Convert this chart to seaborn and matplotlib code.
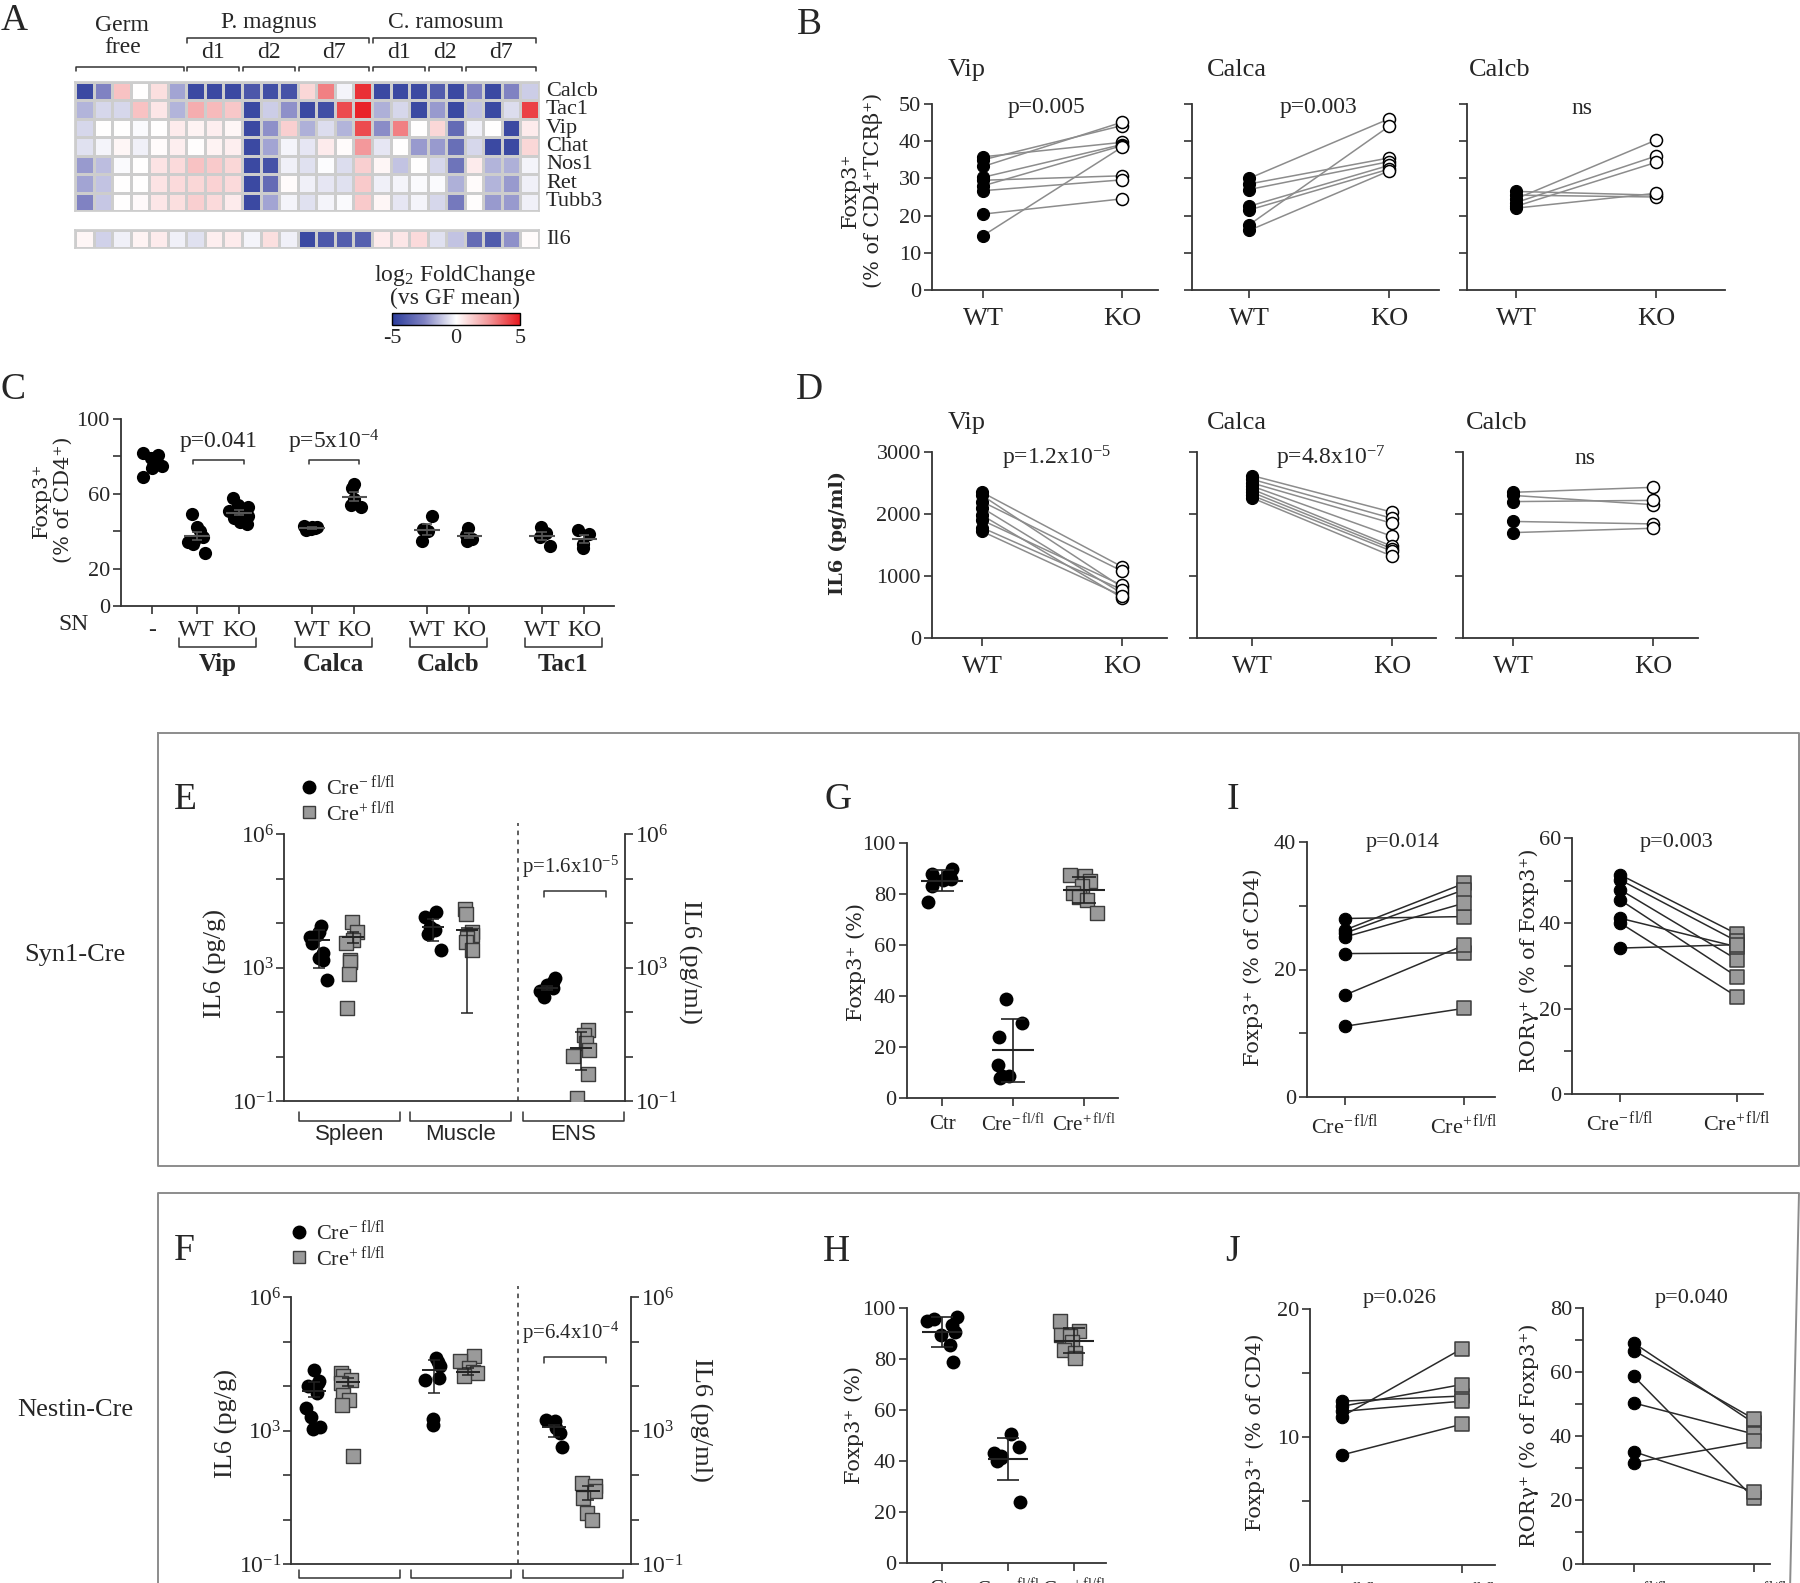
import warnings
import numpy as np
import pandas as pd
import matplotlib
matplotlib.use('Agg')
import matplotlib.pyplot as plt
import matplotlib.transforms as mtrans
from matplotlib.colors import LinearSegmentedColormap
from matplotlib.lines import Line2D
from matplotlib.ticker import NullLocator
import seaborn as sns

warnings.filterwarnings("ignore")
np.random.seed(7)  # only for the horizontal jitter of the dot clouds

# ---------------- A: heatmap, log2 fold change vs GF mean ----------------
heat_genes = ['Calcb', 'Tac1', 'Vip', 'Chat', 'Nos1', 'Ret', 'Tubb3']
heat_block_names = ['', 'd1', 'd2', 'd7', 'd1', 'd2', 'd7']
heat_block_sizes = [6, 3, 3, 4, 3, 2, 4]
heat_top_names = ['Germ\nfree', 'P. magnus', 'C. ramosum']
heat_top_blocks = [1, 3, 3]
fc_calcb = [-4.5, -2.5, 1.5, 0, 0.8, -1.8, -4.5, -4.5, -4.5, -4.0, -4.3, -4.2, 1.0, 3.0, -0.2, 4.5,
            -4.5, -4.5, -4.5, -3.8, -4.5, -2.5, -4.5, -2.5, -1.0]
fc_tac1 = [-1.5, -0.8, -0.8, 1.5, 0.6, -1.5, 2.0, 1.7, 1.4, -4.5, -1.0, -2.2, -4.5, -4.3, 4.0, 4.8,
           -1.6, -0.8, -4.5, -2.0, -4.5, -1.2, -4.5, -0.7, 4.2]
fc_vip = [-0.8, 0, 0, -0.1, 0, 0.5, 0.3, 0.4, 0.2, -4.5, -2.2, 1.2, -1.6, -0.7, -1.5, 4.0,
          -2.3, 3.0, 0, 1.0, -3.3, -0.3, 0, -4.5, 0.5]
fc_chat = [-0.6, -0.2, 0.2, -0.3, 0.1, 0.4, 0.05, 0.3, 0.4, -4.5, -1.8, -0.2, -0.5, 0.5, 0.1, 2.5,
           -0.5, 0, -2.0, -2.0, -3.2, -0.8, -4.5, -4.5, 1.0]
fc_nos1 = [-2.0, -1.3, -0.1, 0, 0.7, 0.9, 1.5, 1.3, 1.0, -4.5, -4.2, -0.3, -0.6, -0.05, -0.7, 1.2,
           0.2, -1.2, 0, -0.8, -3.0, 0.5, -1.5, -1.6, -0.2]
fc_ret = [-1.8, -1.2, 0, 0, 0.7, 0.9, 1.0, 1.1, 0.9, -4.5, -3.3, 0.1, -0.3, -0.5, -0.6, 1.3,
          -0.3, -0.2, -0.1, -0.1, -1.6, 0.1, -1.5, -2.0, -0.3]
fc_tubb3 = [-2.5, -1.1, 0, 0.15, 0.6, 0.8, 1.2, 0.9, 0.5, -4.5, -1.8, -0.2, -0.6, -0.2, -0.1, 1.3,
            0.2, -0.5, -0.2, -0.8, -2.8, 0.05, -2.0, -2.0, -0.3]
fc_il6 = [0.2, -0.9, -0.3, 0.3, 0.5, -0.3, -0.6, 0.4, 0.5, -0.2, 0.8, -0.3, -4.5, -4.0, -3.8, -3.7,
          0.5, 0.6, 0.9, -0.6, -1.2, -3.3, -3.9, -2.2, 0.1]

# ---------------- B: Foxp3+ (% of CD4+TCRb+), WT -> KO pairs ----------------
b_names = ['Vip', 'Calca', 'Calcb']
b_pvals = ['p=0.005', 'p=0.003', 'ns']
b_vip_wt = [35.8, 35.0, 33.2, 30.3, 29.5, 28.0, 26.7, 20.4, 14.6]
b_vip_ko = [39.7, 44.2, 45.1, 39.1, 30.7, 38.8, 29.6, 24.5, 38.4]
b_calca_wt = [30.0, 28.5, 27.0, 22.5, 21.5, 17.5, 16.0]
b_calca_ko = [46.0, 35.5, 34.5, 33.5, 32.5, 44.0, 32.0]
b_calcb_wt = [26.5, 25.5, 24.5, 23.5, 22.5, 22.0]
b_calcb_ko = [25.5, 25.0, 40.3, 36.0, 34.3, 26.0]

# ---------------- C: Foxp3+ (% of CD4+) with supernatants ----------------
c_genes = ['Vip', 'Calca', 'Calcb', 'Tac1']
c_pvals = ['p=0.041', r'p=5x10$^{-4}$']
c_ctrl = [82, 81, 79, 76, 75, 75, 74, 69]
c_vip_wt = [49, 42, 40, 37, 35, 34, 33, 28.5]
c_vip_ko = [57.5, 54, 53, 51, 50, 48, 47, 45, 44]
c_calca_wt = [43, 42.5, 42, 41.5, 41, 40.5]
c_calca_ko = [65, 63, 57, 54, 53]
c_calcb_wt = [48, 41, 40, 34.5]
c_calcb_ko = [41.5, 38, 36, 35]
c_tac1_wt = [42, 39, 37, 32]
c_tac1_ko = [40.5, 38.5, 33, 31]

# ---------------- D: IL6 (pg/ml), WT -> KO pairs ----------------
d_pvals = [r'p=1.2x10$^{-5}$', r'p=4.8x10$^{-7}$', 'ns']
d_vip_wt = [2350, 2300, 2200, 2100, 1980, 1900, 1780, 1720]
d_vip_ko = [1150, 820, 1080, 720, 650, 850, 780, 680]
d_calca_wt = [2620, 2560, 2500, 2450, 2400, 2350, 2300, 2260]
d_calca_ko = [2030, 1930, 1850, 1640, 1480, 1440, 1400, 1320]
d_calcb_wt = [2350, 2300, 2200, 1880, 1700]
d_calcb_ko = [2430, 2150, 2220, 1840, 1770]

# ---------------- E / F: IL6 in tissues (Cre- vs Cre+) ----------------
tissues = ['Spleen', 'Muscle', 'ENS']
e_neg = [[8500, 6300, 5400, 4900, 3500, 2100, 1600, 1500, 430],
         [17800, 13800, 8300, 6900, 5800, 2450],
         [470, 370, 295, 235, 200, 132]]
e_pos = [[10300, 6300, 4100, 3500, 1480, 1350, 660, 63],
         [21000, 16000, 6300, 5400, 4500, 3800, 2450],
         [13, 9.4, 5.3, 3.3, 2.3, 0.66, 0.12]]
# mean, lower and upper whisker per group: Spleen-, Spleen+, Muscle-, Muscle+, ENS-, ENS+
e_mean = [4200, 4800, 8300, 6900, 245, 4.0]
e_lo = [1000, 3500, 4000, 44, 215, 0.85]
e_hi = [6900, 6300, 12600, 7600, 280, 11.7]
e_pval = r'p=1.6x10$^{-5}$'

f_neg = [[23000, 13000, 11500, 9800, 6900, 3200, 2000, 1200, 1100],
         [42000, 35500, 27700, 15000, 13800, 1800, 1350],
         [1750, 1600, 1130, 830, 330]]
f_pos = [[20000, 16500, 13800, 11700, 6400, 4900, 3800, 167],
         [48000, 36000, 25300, 21000, 19500, 16500],
         [26, 21, 15, 9.4, 3.3, 2.1]]
f_mean = [7900, 12000, 23000, 21000, 1200, 15]
f_lo = [5600, 9800, 6900, 18000, 660, 8.3]
f_hi = [12000, 15000, 39000, 25000, 1350, 21]
f_pval = r'p=6.4x10$^{-4}$'

# ---------------- G / H: Foxp3+ (%) ----------------
gh_groups = ['Ctr', r'Cre$^{-\,\mathrm{fl/fl}}$', r'Cre$^{+\,\mathrm{fl/fl}}$']
g_ctr = [90, 88, 87, 86, 85.5, 83, 77]
g_neg = [39, 29.5, 24, 13, 8.5, 8, 8.5]
g_pos = [87.6, 87, 85, 83, 80.4, 79, 77.8, 72.5]
h_ctr = [96.5, 95.7, 94.8, 93.2, 90.4, 89.5, 85.6, 79]
h_neg = [50.5, 45.5, 43, 42, 41, 40, 24]
h_pos = [95, 91, 89.5, 89, 86.5, 83.5, 82.3, 80.3]

# ---------------- I / J: paired Cre- -> Cre+ ----------------
ij_groups = [r'Cre$^{-\,\mathrm{fl/fl}}$', r'Cre$^{+\,\mathrm{fl/fl}}$']
i_fox_neg = [28, 26.2, 25.7, 25.1, 22.5, 16, 11.1]
i_fox_pos = [28.3, 33.5, 32.5, 30.4, 22.6, 23.8, 13.9]
i_ror_neg = [51.4, 50.2, 47.9, 45.5, 41.2, 40.1, 34.2]
i_ror_pos = [37.5, 35.8, 31.5, 27.5, 34.5, 22.8, 35.0]
j_fox_neg = [12.8, 12.4, 12.0, 11.6, 8.6]
j_fox_pos = [13.2, 14.1, 12.8, 16.9, 11.0]
j_ror_neg = [69, 66.7, 58.6, 50.3, 35.1, 31.7]
j_ror_pos = [44, 45.3, 20.5, 40.6, 22.6, 38.3]
i_pvals = ['p=0.014', 'p=0.003']
j_pvals = ['p=0.026', 'p=0.040']

# ======================================================================
sns.set_theme(style='ticks')
plt.rcParams['font.family'] = ['Liberation Serif', 'DejaVu Serif']
plt.rcParams['mathtext.fontset'] = 'custom'
plt.rcParams['mathtext.rm'] = 'Liberation Serif'
plt.rcParams['mathtext.it'] = 'Liberation Serif:italic'
plt.rcParams['mathtext.bf'] = 'Liberation Serif:bold'

W, H = 1800, 1583
fig = plt.figure(figsize=(W / 100, H / 100), dpi=100)
fig.patch.set_facecolor('white')

INK = '#333333'
YLAB = dict(family='DejaVu Serif', fontsize=15, rotation=90, ha='center', va='center',
            multialignment='center')


def add_ax(l, t, r, b):
    return fig.add_axes([l / W, 1 - b / H, (r - l) / W, (b - t) / H])


def ftext(x, y, s, **kw):
    kw.setdefault('ha', 'center')
    kw.setdefault('va', 'center')
    return fig.text(x / W, 1 - y / H, s, **kw)


def fline(xs, ys, **kw):
    kw.setdefault('color', '#8c8c8c')
    kw.setdefault('lw', 1.4)
    fig.add_artist(Line2D([x / W for x in xs], [1 - y / H for y in ys],
                          transform=fig.transFigure, **kw))


def xlim_px(left, right, p0, p1):
    # x limits so that position 0 sits at pixel p0 and position 1 at p1
    u = p1 - p0
    return ((left - p0) / u, (right - p0) / u)


def style(ax, ylim, yticks, ylabels, xlim, xticks, xlabels, xsize=19, xpad=7, ysize=16):
    sns.despine(ax=ax)
    for s in ('left', 'bottom'):
        ax.spines[s].set_linewidth(1.3)
        ax.spines[s].set_color(INK)
    ax.set_ylim(*ylim)
    ax.set_xlim(*xlim)
    ax.set_yticks(yticks)
    ax.set_yticklabels(ylabels)
    ax.set_xticks(xticks)
    ax.set_xticklabels(xlabels)
    ax.tick_params(length=6, width=1.2, color=INK, labelsize=ysize, pad=2)
    ax.tick_params(axis='x', labelsize=xsize, pad=xpad)
    ax.set_xlabel('')
    ax.set_ylabel('')
    ax.set_facecolor('none')


def paired(ax, a, b, line_color, mk_a, mk_b):
    df = pd.DataFrame({'pair': list(range(len(a))) + list(range(len(b))),
                       'side': [0] * len(a) + [1] * len(b),
                       'val': list(a) + list(b)})
    sns.lineplot(data=df, x='side', y='val', units='pair', estimator=None,
                 color=line_color, lw=1.1, ax=ax, legend=False)
    sns.scatterplot(x=[0] * len(a), y=a, ax=ax, zorder=3, legend=False, **mk_a)
    sns.scatterplot(x=[1] * len(b), y=b, ax=ax, zorder=3, legend=False, **mk_b)


def mean_bar(ax, x, m, lo, hi, half, cap, color='black', lw=1.3):
    ax.hlines(m, x - half, x + half, color=color, lw=lw + 0.3, zorder=4)
    ax.vlines(x, lo, hi, color=color, lw=lw, zorder=4)
    ax.hlines([lo, hi], x - cap, x + cap, color=color, lw=lw, zorder=4)


def dots(ax, df, jitter, square=False, size=10):
    if square:
        sns.stripplot(data=df, x='pos', y='val', native_scale=True, jitter=jitter,
                      marker='s', color='#9a9a9a', edgecolor='#3c3c3c', linewidth=1,
                      size=size, ax=ax, zorder=3)
    else:
        sns.stripplot(data=df, x='pos', y='val', native_scale=True, jitter=jitter,
                      color='black', size=size, ax=ax, zorder=3)


MK_DOT = dict(marker='o', s=75, color='black', edgecolor='black', linewidth=0.8)
MK_OPEN = dict(marker='o', s=75, color='white', edgecolor='black', linewidth=1.1)
MK_SQ = dict(marker='s', s=100, color='#9a9a9a', edgecolor='#3c3c3c', linewidth=1.1)

# ---------------- frames and row titles ----------------
fline([158, 1799, 1799, 158, 158], [733, 733, 1166, 1166, 733])
fline([158, 158, 1799, 1790], [1590, 1193, 1193, 1590])
ftext(75, 955, 'Syn1-Cre', fontsize=19)
ftext(75, 1410, 'Nestin-Cre', fontsize=19)

# panel letters
for lab, x, y in [('A', 14, 21), ('B', 809, 25), ('C', 13, 390), ('D', 809, 390),
                  ('E', 185, 800), ('G', 838, 800), ('I', 1233, 800),
                  ('F', 184, 1251), ('H', 836, 1252), ('J', 1232, 1252)]:
    ftext(x, y, lab, fontsize=27)

# ======================= A =======================
cmap = LinearSegmentedColormap.from_list(
    'fc', ['#2b3c9b', '#7f82c2', '#ffffff', '#f39a9c', '#e8181e'])
heat = pd.DataFrame([fc_calcb, fc_tac1, fc_vip, fc_chat, fc_nos1, fc_ret, fc_tubb3],
                    index=heat_genes)
axh = add_ax(75, 82, 539, 211)
cax = add_ax(392, 313, 520, 325)
sns.heatmap(heat, cmap=cmap, vmin=-5, vmax=5, linewidths=0.8, linecolor='#cdcdcd',
            xticklabels=False, yticklabels=True, cbar_ax=cax,
            cbar_kws={'orientation': 'horizontal', 'ticks': [-5, 0, 5]}, ax=axh)
axh.yaxis.tick_right()
axh.tick_params(axis='y', length=0, labelsize=16, pad=5)
plt.setp(axh.get_yticklabels(), rotation=0, va='center')
for s in axh.spines.values():
    s.set_visible(True)
    s.set_color('#cdcdcd')

cbar = axh.collections[0].colorbar
cbar.set_ticklabels(['-5', '0', '5'])
cbar.outline.set_edgecolor('black')
cbar.outline.set_linewidth(1.0)
cax.tick_params(length=0, labelsize=16, pad=3)
ftext(455, 276, r'log$_{2}$ FoldChange', fontsize=17)
ftext(455, 298, '(vs GF mean)', fontsize=17)

axi = add_ax(75, 230, 539, 248)
sns.heatmap(pd.DataFrame([fc_il6], index=['Il6']), cmap=cmap, vmin=-5, vmax=5,
            linewidths=0.8, linecolor='#cdcdcd', xticklabels=False, yticklabels=True,
            cbar=False, ax=axi)
axi.yaxis.tick_right()
axi.tick_params(axis='y', length=0, labelsize=16, pad=5)
plt.setp(axi.get_yticklabels(), rotation=0, va='center')
for s in axi.spines.values():
    s.set_visible(True)
    s.set_color('#cdcdcd')

# group brackets above the heatmap (x in columns, y in rows; rows grow downward)
edges = np.concatenate([[0], np.cumsum(heat_block_sizes)])
for k, name in enumerate(heat_block_names):
    x0, x1 = edges[k] + 0.05, edges[k + 1] - 0.15
    axh.plot([x0, x0, x1, x1], [-0.6, -0.82, -0.82, -0.6], color=INK, lw=1.1, clip_on=False)
    if name:
        axh.text((x0 + x1) / 2, -1.6, name, ha='center', va='center', fontsize=17)
top_edges = edges[np.concatenate([[0], np.cumsum(heat_top_blocks)])]
for k, name in enumerate(heat_top_names):
    x0, x1 = top_edges[k] + 0.05, top_edges[k + 1] - 0.15
    if k == 0:
        axh.text((x0 + x1) / 2 - 0.4, -2.45, name, ha='center', va='center', fontsize=17,
                 linespacing=1.05)
        continue
    axh.plot([x0, x0, x1, x1], [-2.1, -2.4, -2.4, -2.1], color=INK, lw=1.1, clip_on=False)
    axh.text((x0 + x1) / 2 - 0.5, -3.25, name, ha='center', va='center', fontsize=17)

# ======================= B =======================
b_wt = [b_vip_wt, b_calca_wt, b_calcb_wt]
b_ko = [b_vip_ko, b_calca_ko, b_calcb_ko]
b_boxes = [(932, 1158, 983, 1122), (1192, 1439, 1249, 1389), (1467, 1725, 1516, 1656)]
b_title_x = [948, 1207, 1469]
b_p_x = [1046, 1319, 1582]
for k in range(3):
    l, r, p0, p1 = b_boxes[k]
    ax = add_ax(l, 104, r, 290)
    paired(ax, b_wt[k], b_ko[k], '#8c8c8c', MK_DOT, MK_OPEN)
    yl = [str(v) for v in range(0, 51, 10)] if k == 0 else [''] * 6
    style(ax, (0, 50), range(0, 51, 10), yl, xlim_px(l, r, p0, p1), [0, 1], ['WT', 'KO'])
    ftext(b_title_x[k], 70, b_names[k], ha='left', fontsize=19)
    ftext(b_p_x[k], 108, b_pvals[k], fontsize=17)
ftext(862, 190, 'Foxp3\u207a\n(% of CD4\u207aTCR\u03b2\u207a)', **YLAB)

# ======================= C =======================
c_vals = [c_ctrl, c_vip_wt, c_vip_ko, c_calca_wt, c_calca_ko,
          c_calcb_wt, c_calcb_ko, c_tac1_wt, c_tac1_ko]
c_pos = [0.0] + [1.06 + 2.72 * k + j for k in range(4) for j in (0, 1)]
axc = add_ax(121, 419, 614, 606)
dfc = pd.DataFrame({'pos': np.repeat(c_pos, [len(v) for v in c_vals]),
                    'val': np.concatenate(c_vals)})
dots(axc, dfc, 0.24, size=9.5)
for x, v in zip(c_pos[1:], c_vals[1:]):
    m = np.mean(v)
    e = np.std(v, ddof=1) / np.sqrt(len(v))
    mean_bar(axc, x, m, m - e, m + e, half=0.3, cap=0.12, color='#555555', lw=1.2)
style(axc, (0, 100), range(0, 101, 20), ['0', '20', '', '60', '', '100'],
      ((121 - 152) / 42.3, (614 - 152) / 42.3), c_pos,
      ['-'] + ['WT', 'KO'] * 4, xsize=17, xpad=4)
trc = mtrans.blended_transform_factory(axc.transData, axc.transAxes)
for k, g in enumerate(c_genes):
    x0, x1 = c_pos[1 + 2 * k] - 0.41, c_pos[2 + 2 * k] + 0.41
    axc.plot([x0, x0, x1, x1], [-0.17, -0.22, -0.22, -0.17], transform=trc,
             color=INK, lw=1.1, clip_on=False)
    axc.text((x0 + x1) / 2, -0.315, g, transform=trc, ha='center', va='center',
             fontsize=18, fontweight='bold')
for k, p in enumerate(c_pvals):
    x0, x1 = c_pos[1 + 2 * k] - 0.08, c_pos[2 + 2 * k] + 0.12
    axc.plot([x0, x0, x1, x1], [76, 78, 78, 76], color=INK, lw=1.1, clip_on=False)
    axc.text((x0 + x1) / 2, 88, p, ha='center', va='center', fontsize=17)
ftext(73, 625, 'SN', fontsize=17)
ftext(52, 500, 'Foxp3\u207a\n(% of CD4\u207a)', **YLAB)

# ======================= D =======================
d_wt = [d_vip_wt, d_calca_wt, d_calcb_wt]
d_ko = [d_vip_ko, d_calca_ko, d_calcb_ko]
d_boxes = [(932, 1167, 982, 1122), (1197, 1436, 1252, 1392), (1463, 1698, 1513, 1653)]
d_title_x = [948, 1207, 1466]
d_p_x = [1057, 1331, 1585]
for k in range(3):
    l, r, p0, p1 = d_boxes[k]
    ax = add_ax(l, 452, r, 638)
    paired(ax, d_wt[k], d_ko[k], '#8c8c8c', MK_DOT, MK_OPEN)
    yl = [str(v) for v in range(0, 3001, 1000)] if k == 0 else [''] * 4
    style(ax, (0, 3000), range(0, 3001, 1000), yl, xlim_px(l, r, p0, p1), [0, 1], ['WT', 'KO'])
    ftext(d_title_x[k], 423, b_names[k], ha='left', fontsize=19)
    ftext(d_p_x[k], 458, d_pvals[k], fontsize=17)
ftext(838, 533, 'IL6 (pg/ml)', family='DejaVu Serif', fontsize=14, fontweight='bold',
      rotation=90)


# ======================= E / F =======================
def fwd(v):
    t = np.log10(np.maximum(v, 1e-9))
    return np.where(t <= 3, (t + 1) * 0.75, t)


def inv(u):
    return np.where(u <= 3, 10 ** (u / 0.75 - 1), 10 ** u)


def tissue_panel(box, origin, unit, neg, pos, mean, lo, hi, pval, br_shift, br_half,
                 br_y, dash_px, p_px, p_y, names, legend_xy):
    l, t, r, b = box
    ax = add_ax(l, t, r, b)
    ax.set_yscale('function', functions=(fwd, inv))
    ax.set_ylim(0.1, 1e6)
    off = 17 / unit
    rows = []
    for k in range(3):
        rows += [(k - off, v, 'neg') for v in neg[k]]
        rows += [(k + off, v, 'pos') for v in pos[k]]
    df = pd.DataFrame(rows, columns=['pos', 'val', 'geno'])
    jit = 9 / unit
    dots(ax, df[df.geno == 'neg'], jit)
    dots(ax, df[df.geno == 'pos'], jit, square=True)
    for k in range(6):
        x = k // 2 + (off if k % 2 else -off)
        mean_bar(ax, x, mean[k], lo[k], hi[k], half=0.1, cap=0.05, color='#222222', lw=1.1)
    ticks = inv(np.arange(7))
    tl = [r'10$^{-1}$', '', '', r'10$^{3}$', '', '', r'10$^{6}$']
    style(ax, (0.1, 1e6), ticks, tl, ((l - origin) / unit, (r - origin) / unit),
          [], [], ysize=17)
    ax.yaxis.set_minor_locator(NullLocator())
    ax.tick_params(axis='y', pad=1)
    ax2 = ax.twinx()
    ax2.set_yscale('function', functions=(fwd, inv))
    ax2.set_ylim(0.1, 1e6)
    ax2.set_yticks(ticks)
    ax2.set_yticklabels(tl)
    ax2.yaxis.set_minor_locator(NullLocator())
    for s in ('top', 'left', 'bottom'):
        ax2.spines[s].set_visible(False)
    ax2.spines['right'].set_linewidth(1.3)
    ax2.spines['right'].set_color(INK)
    ax2.tick_params(length=6, width=1.2, color=INK, labelsize=17, pad=1)
    ax2.set_ylabel('')
    dash_x = (dash_px - origin) / unit
    ax.axvline(dash_x, ymin=0, ymax=1.04, color=INK, lw=1.1, ls=(0, (3, 3)), clip_on=False)
    tr = mtrans.blended_transform_factory(ax.transData, ax.transAxes)
    for k in range(3):
        c = k + br_shift[k]
        ax.plot([c - br_half, c - br_half, c + br_half, c + br_half],
                [br_y[0], br_y[1], br_y[1], br_y[0]], transform=tr, color=INK, lw=1.1,
                clip_on=False)
        if names:
            ax.text(c, br_y[1] - 0.052, names[k], transform=tr, ha='center', va='center',
                    fontsize=16, family='Liberation Sans')
    px0, px1 = [(p - origin) / unit for p in p_px]
    ax.plot([px0, px0, px1, px1], [p_y - 0.023, p_y, p_y, p_y - 0.023], transform=tr,
            color=INK, lw=1.1, clip_on=False)
    ax.text((px0 + px1) / 2 - 0.04, p_y + 0.09, pval, transform=tr, ha='center',
            va='center', fontsize=15)
    handles = [Line2D([], [], marker='o', ls='', color='black', markersize=9),
               Line2D([], [], marker='s', ls='', markerfacecolor='#9a9a9a',
                      markeredgecolor='#3c3c3c', markersize=9)]
    fig.legend(handles, [r'Cre$^{-\ \mathrm{fl/fl}}$', r'Cre$^{+\ \mathrm{fl/fl}}$'],
               loc='upper left', bbox_to_anchor=(legend_xy[0] / W, 1 - legend_xy[1] / H),
               frameon=False, fontsize=16, handlelength=0.9, handletextpad=0.3,
               labelspacing=0.05, borderpad=0, borderaxespad=0)
    return ax


axe = tissue_panel((284, 834, 625, 1101), 336, 114, e_neg, e_pos, e_mean, e_lo, e_hi,
                   e_pval, [0.118, 0.096, 0.079], 0.443, (-0.041, -0.075), 518,
                   (544, 606), 0.787, tissues, (299, 775))
ftext(215, 963, 'IL6 (pg/g)', fontsize=19, rotation=90)
ftext(690, 962, 'IL6 (pg/ml)', fontsize=19, rotation=270)

axf = tissue_panel((291, 1297, 631, 1564), 331, 120, f_neg, f_pos, f_mean, f_lo, f_hi,
                   f_pval, [0.154, 0.083, 0.017], 0.42, (-0.022, -0.052), 518,
                   (544, 606), 0.775, None, (289, 1220))
ftext(226, 1423, 'IL6 (pg/g)', fontsize=19, rotation=90)
ftext(701, 1420, 'IL6 (pg/ml)', fontsize=19, rotation=270)


# ======================= G / H =======================
def dot_panel(box, unit, groups_vals, ylab_xy):
    l, t, r, b = box
    ax = add_ax(l, t, r, b)
    rows = []
    for k, v in enumerate(groups_vals):
        rows += [(k, x, 'pos' if k == 2 else 'neg') for x in v]
    df = pd.DataFrame(rows, columns=['pos', 'val', 'geno'])
    dots(ax, df[df.geno == 'neg'], 15 / unit)
    dots(ax, df[df.geno == 'pos'], 15 / unit, square=True)
    for k, v in enumerate(groups_vals):
        m, sd = np.mean(v), np.std(v, ddof=1)
        mean_bar(ax, k, m, m - sd, m + sd, half=0.3, cap=0.17, color='#222222', lw=1.2)
    style(ax, (0, 100), range(0, 101, 20), [str(v) for v in range(0, 101, 20)],
          ((l - (l + 35)) / unit, (r - (l + 35)) / unit), [0, 1, 2], gh_groups,
          xsize=15, xpad=6)
    ftext(ylab_xy[0], ylab_xy[1], 'Foxp3\u207a (%)', **YLAB)
    return ax


dot_panel((907, 843, 1118, 1098), 71, [g_ctr, g_neg, g_pos], (856, 962))
dot_panel((907, 1308, 1106, 1563), 66, [h_ctr, h_neg, h_pos], (854, 1425))


# ======================= I / J =======================
def pair_panel(box, p0, p1, a, b, top, step, pval, label, lab_xy, p_y):
    l, t, r, bb = box
    ax = add_ax(l, t, r, bb)
    paired(ax, a, b, '#2a2a2a', dict(MK_DOT, s=80), MK_SQ)
    ticks = np.arange(0, top + 0.1, step)
    tl = [('%g' % v) if i % 2 == 0 else '' for i, v in enumerate(ticks)]
    style(ax, (0, top), ticks, tl, xlim_px(l, r, p0, p1), [0, 1], ij_groups,
          xsize=16, xpad=6)
    ftext((p0 + p1) / 2 - 2, p_y, pval, fontsize=16)
    ftext(lab_xy[0], lab_xy[1], label, **YLAB)


fox_lab = 'Foxp3\u207a (% of CD4)'
ror_lab = 'ROR\u03b3\u207a (% of Foxp3\u207a)'
pair_panel((1307, 842, 1495, 1097), 1345, 1464, i_fox_neg, i_fox_pos, 40, 10,
           i_pvals[0], fox_lab, (1253, 967), 843)
pair_panel((1572, 838, 1763, 1094), 1620, 1737, i_ror_neg, i_ror_pos, 60, 10,
           i_pvals[1], ror_lab, (1529, 960), 843)
pair_panel((1310, 1309, 1495, 1565), 1342, 1462, j_fox_neg, j_fox_pos, 20, 5,
           j_pvals[0], fox_lab, (1255, 1432), 1298)
pair_panel((1583, 1308, 1770, 1564), 1634, 1754, j_ror_neg, j_ror_pos, 80, 10,
           j_pvals[1], ror_lab, (1529, 1435), 1298)

fig.savefig('out.png', dpi=100, facecolor='white')
